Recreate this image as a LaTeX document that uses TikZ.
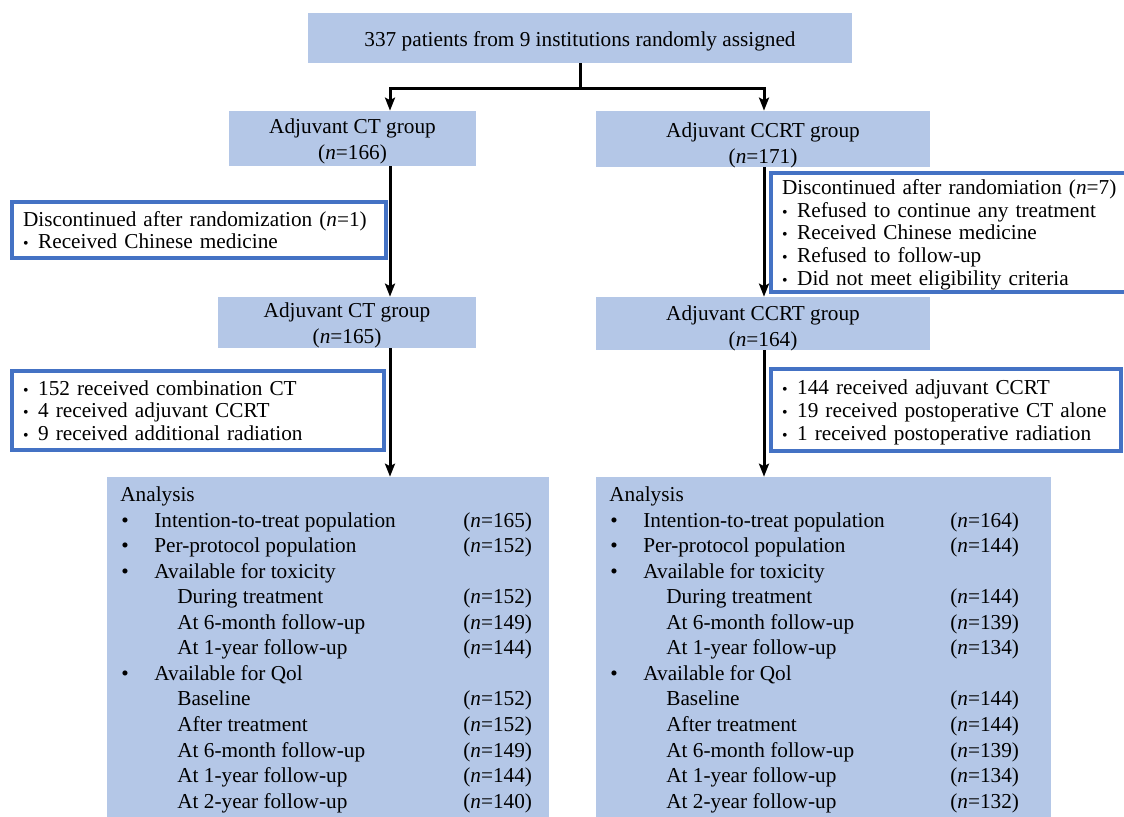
\documentclass[tikz,border=0pt]{standalone}
\usepackage{fontspec}
\setmainfont{Liberation Serif}
\usetikzlibrary{calc,positioning,arrows.meta}
\definecolor{boxfill}{RGB}{180,199,231}
\definecolor{edgeblue}{RGB}{68,114,196}
\newcommand{\bul}{{\small\textbullet}\hspace{0.45em}}
\newcommand{\lift}[1]{\rule{0pt}{#1}}

\begin{document}
\begin{tikzpicture}[x=0.02cm,y=-0.02cm,
  every node/.style={font=\fontsize{12.1}{14.8}\selectfont},
  group/.style={fill=boxfill,inner sep=0pt},
  grouptext/.style={align=center,inner sep=0pt},
  note/.style={draw=edgeblue,line width=0.07cm,fill=white,align=left,
    inner xsep=0.22cm,inner ysep=0pt,font=\fontsize{12.1}{12.9}\selectfont},
  rowtxt/.style={anchor=base west,inner sep=0pt},
  flow/.style={line width=0.06cm},
  arr/.style={flow,-{Stealth[length=0.26cm,width=0.2cm,inset=0.05cm]}}]

  \useasboundingbox (0,0) rectangle (1124,816);

  % randomisation and the two arms
  \node[group,minimum width=10.88cm,minimum height=1.0cm] at (580,38) (top) {};
  \node[group,minimum width=4.94cm,minimum height=1.1cm] at (352.5,138.5) (ct1) {};
  \node[group,minimum width=6.68cm,minimum height=1.12cm] at (763,139) (ccrt1) {};
  \node[group,minimum width=5.16cm,minimum height=1.02cm] at (347,322.5) (ct2) {};
  \node[group,minimum width=6.68cm,minimum height=1.06cm] at (763,323.5) (ccrt2) {};

  \node[grouptext,yshift=-0.06cm] at (top) (toptext)
    {337 patients from 9 institutions randomly assigned};
  \node[grouptext,yshift=-0.06cm] at (ct1) (ct1text)
    {Adjuvant CT group\\(\textit{n}=166)};
  \node[grouptext,yshift=-0.12cm] at (ccrt1) (ccrt1text)
    {Adjuvant CCRT group\\(\textit{n}=171)};
  \node[grouptext,yshift=-0.05cm] at (ct2) (ct2text)
    {Adjuvant CT group\\(\textit{n}=165)};
  \node[grouptext,yshift=-0.09cm] at (ccrt2) (ccrt2text)
    {Adjuvant CCRT group\\(\textit{n}=164)};

  % side notes
  \node[note,text width=7.04cm,minimum height=1.12cm] at (199,230) (discL)
    {Discontinued after randomization (\textit{n}=1)\\
     \bul Received Chinese medicine};
  \node[note,text width=6.84cm,minimum height=2.38cm] at (953,232.5) (discR)
    {\lift{11pt}Discontinued after randomiation (\textit{n}=7)\\
     \bul Refused to continue any treatment\\
     \bul Received Chinese medicine\\
     \bul Refused to follow-up\\
     \bul Did not meet eligibility criteria};
  \node[note,text width=7.0cm,minimum height=1.58cm] at (198,410.5) (txL)
    {\bul 152 received combination CT\\
     \bul 4 received adjuvant CCRT\\
     \bul 9 received additional radiation};
  \node[note,text width=6.56cm,minimum height=1.64cm] at (946,410) (txR)
    {\lift{11pt}\bul 144 received adjuvant CCRT\\
     \bul 19 received postoperative CT alone\\
     \bul 1 received postoperative radiation};

  % analysis boxes
  \node[group,minimum width=8.84cm,minimum height=7.26cm] at (328,658.5) (anaL) {};
  \node[group,minimum width=9.1cm,minimum height=7.26cm] at (823.5,658.5) (anaR) {};

  \foreach \s/\x in {L/107,R/596}{
    \node[rowtxt] (head\s) at (\x+13,501.5) {Analysis};
    \foreach \k in {1,2,3,7}
      \node[rowtxt] (dot\s\k) at (\x+14,501.5+25.55*\k) {\textbullet};
    \foreach \k/\ind/\lab in {1/47/Intention-to-treat population,
        2/47/Per-protocol population, 3/47/Available for toxicity,
        4/70/During treatment, 5/70/At 6-month follow-up,
        6/70/At 1-year follow-up, 7/47/Available for Qol,
        8/70/Baseline, 9/70/After treatment, 10/70/At 6-month follow-up,
        11/70/At 1-year follow-up, 12/70/At 2-year follow-up}
      \node[rowtxt] (item\s\k) at (\x+\ind,501.5+25.55*\k) {\lab};
  }
  \foreach \k/\n in {1/165,2/152,4/152,5/149,6/144,8/152,9/152,10/149,11/144,12/140}
    \node[rowtxt] (numL\k) at (463,501.5+25.55*\k) {(\textit{n}=\n)};
  \foreach \k/\n in {1/164,2/144,4/144,5/139,6/134,8/144,9/144,10/139,11/134,12/132}
    \node[rowtxt] (numR\k) at (950,501.5+25.55*\k) {(\textit{n}=\n)};

  % connectors
  \coordinate (fork) at (580,88);
  \coordinate (lcol) at (390,0);
  \coordinate (rcol) at (764,0);
  \draw[flow] (top.south) -- (fork);
  \draw[arr] (fork) -| (ct1.north -| lcol);
  \draw[arr] (fork) -| (ccrt1.north -| rcol);
  \draw[arr] (ct1.south -| lcol) -- (ct2.north -| lcol);
  \draw[arr] (ccrt1.south -| rcol) -- (ccrt2.north -| rcol);
  \draw[arr] (ct2.south -| lcol) -- (anaL.north -| lcol);
  \draw[arr] (ccrt2.south -| rcol) -- (anaR.north -| rcol);
\end{tikzpicture}
\end{document}
